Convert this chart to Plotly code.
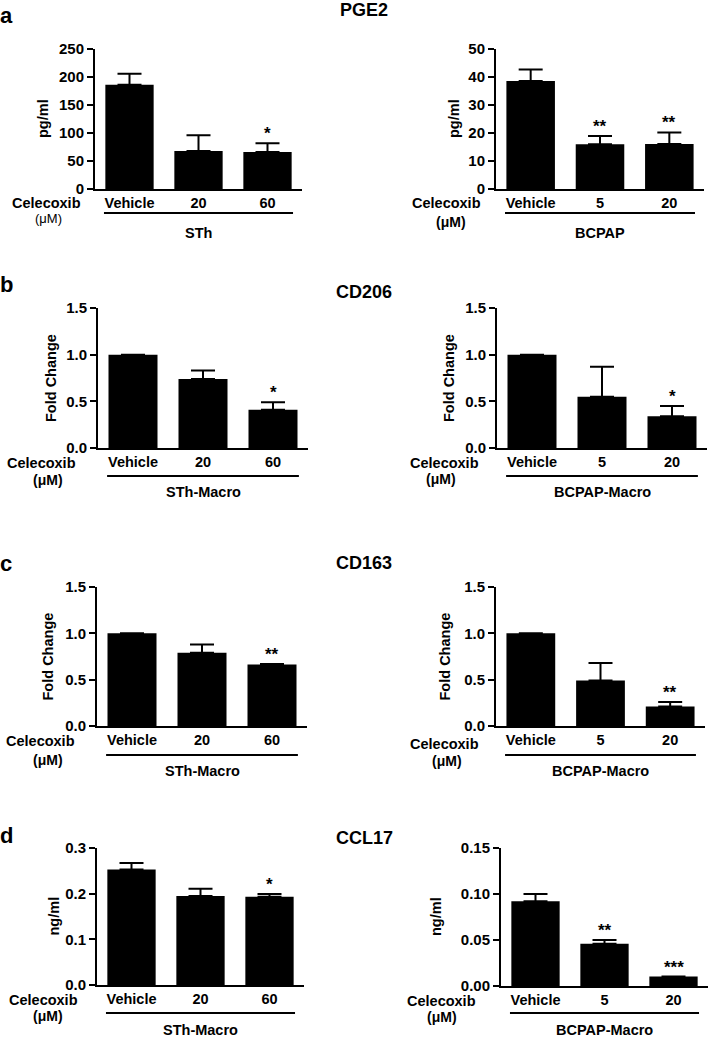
import plotly.graph_objects as go

# ---------------- data ----------------
cats_sth = ["Vehicle", "20", "60"]
cats_bcpap = ["Vehicle", "5", "20"]

pge2_sth_mean = [186, 68, 66]
pge2_sth_err = [20, 28, 15.5]
pge2_sth_stars = ["", "", "*"]
pge2_sth_ticks = [0, 50, 100, 150, 200, 250]

pge2_bcpap_mean = [38.6, 16.0, 16.1]
pge2_bcpap_err = [4.1, 2.9, 4.1]
pge2_bcpap_stars = ["", "**", "**"]
pge2_bcpap_ticks = [0, 10, 20, 30, 40, 50]

cd206_sth_mean = [1.0, 0.74, 0.41]
cd206_sth_err = [0, 0.09, 0.08]
cd206_sth_stars = ["", "", "*"]

cd206_bcpap_mean = [1.0, 0.55, 0.34]
cd206_bcpap_err = [0, 0.32, 0.11]
cd206_bcpap_stars = ["", "", "*"]

cd163_sth_mean = [1.0, 0.79, 0.665]
cd163_sth_err = [0, 0.09, 0.005]
cd163_sth_stars = ["", "", "**"]

cd163_bcpap_mean = [1.0, 0.49, 0.21]
cd163_bcpap_err = [0, 0.19, 0.05]
cd163_bcpap_stars = ["", "", "**"]

fold_ticks = [0.0, 0.5, 1.0, 1.5]

ccl17_sth_mean = [0.253, 0.195, 0.193]
ccl17_sth_err = [0.014, 0.016, 0.006]
ccl17_sth_stars = ["", "", "*"]
ccl17_sth_ticks = [0.0, 0.1, 0.2, 0.3]

ccl17_bcpap_mean = [0.092, 0.046, 0.0102]
ccl17_bcpap_err = [0.008, 0.004, 0]
ccl17_bcpap_stars = ["", "**", "***"]
ccl17_bcpap_ticks = [0.0, 0.05, 0.10, 0.15]

panel_letters = ["a", "b", "c", "d"]
panel_titles = ["PGE2", "CD206", "CD163", "CCL17"]

# ---------------- layout helpers ----------------
W, H = 708, 1038
FONT = "Liberation Sans, Arial, Helvetica, sans-serif"


def fx(x):
    return x / W


def fy(y):
    return 1 - y / H


panels = [
    dict(mean=pge2_sth_mean, err=pge2_sth_err, stars=pge2_sth_stars, cats=cats_sth,
         group="STh", ytitle="pg/ml", ticks=pge2_sth_ticks, fmt="d",
         xdom=(95, 302), ydom=(49, 189), yt_x=43, cel_x=46, cel_y=203,
         um_x=48, um_y=218, um_bold=False, line_y=213, group_y=233),
    dict(mean=pge2_bcpap_mean, err=pge2_bcpap_err, stars=pge2_bcpap_stars, cats=cats_bcpap,
         group="BCPAP", ytitle="pg/ml", ticks=pge2_bcpap_ticks, fmt="d",
         xdom=(496, 704), ydom=(49, 189), yt_x=454, cel_x=446, cel_y=203,
         um_x=451, um_y=222, um_bold=True, line_y=213, group_y=233),
    dict(mean=cd206_sth_mean, err=cd206_sth_err, stars=cd206_sth_stars, cats=cats_sth,
         group="STh-Macro", ytitle="Fold Change", ticks=fold_ticks, fmt=".1f",
         xdom=(98, 308), ydom=(308, 448), yt_x=51, cel_x=41, cel_y=463,
         um_x=48, um_y=480, um_bold=True, line_y=476, group_y=492),
    dict(mean=cd206_bcpap_mean, err=cd206_bcpap_err, stars=cd206_bcpap_stars, cats=cats_bcpap,
         group="BCPAP-Macro", ytitle="Fold Change", ticks=fold_ticks, fmt=".1f",
         xdom=(497, 707), ydom=(308, 448), yt_x=449, cel_x=444, cel_y=463,
         um_x=441, um_y=479, um_bold=True, line_y=476, group_y=492),
    dict(mean=cd163_sth_mean, err=cd163_sth_err, stars=cd163_sth_stars, cats=cats_sth,
         group="STh-Macro", ytitle="Fold Change", ticks=fold_ticks, fmt=".1f",
         xdom=(97, 307), ydom=(587, 726), yt_x=47, cel_x=40, cel_y=741,
         um_x=48, um_y=760, um_bold=True, line_y=755, group_y=771),
    dict(mean=cd163_bcpap_mean, err=cd163_bcpap_err, stars=cd163_bcpap_stars, cats=cats_bcpap,
         group="BCPAP-Macro", ytitle="Fold Change", ticks=fold_ticks, fmt=".1f",
         xdom=(496, 705), ydom=(587, 726), yt_x=444, cel_x=445, cel_y=744,
         um_x=447, um_y=761, um_bold=True, line_y=755, group_y=771),
    dict(mean=ccl17_sth_mean, err=ccl17_sth_err, stars=ccl17_sth_stars, cats=cats_sth,
         group="STh-Macro", ytitle="ng/ml", ticks=ccl17_sth_ticks, fmt=".1f",
         xdom=(97, 304), ydom=(848, 985), yt_x=53, cel_x=43, cel_y=1000,
         um_x=48, um_y=1016, um_bold=True, line_y=1013, group_y=1030),
    dict(mean=ccl17_bcpap_mean, err=ccl17_bcpap_err, stars=ccl17_bcpap_stars, cats=cats_bcpap,
         group="BCPAP-Macro", ytitle="ng/ml", ticks=ccl17_bcpap_ticks, fmt=".2f",
         xdom=(501, 708), ydom=(848, 986), yt_x=436, cel_x=441, cel_y=1001,
         um_x=442, um_y=1017, um_bold=True, line_y=1013, group_y=1030),
]

letter_pos = [(6, 15), (6, 285), (6, 563), (6, 835)]
title_pos = [(364, 10), (364, 292), (364, 563), (364, 838)]

fig = go.Figure()
layout = dict(
    width=W, height=H, autosize=False,
    margin=dict(l=0, r=0, t=0, b=0),
    paper_bgcolor="white", plot_bgcolor="white",
    showlegend=False, template="none",
    font=dict(family=FONT, color="black"),
)
annotations = []
shapes = []

bold = dict(family=FONT, color="black", weight="bold")

for i, p in enumerate(panels):
    n = i + 1
    xa = "x" if n == 1 else f"x{n}"
    ya = "y" if n == 1 else f"y{n}"
    xkey = "xaxis" if n == 1 else f"xaxis{n}"
    ykey = "yaxis" if n == 1 else f"yaxis{n}"
    xs = list(range(len(p["cats"])))
    fig.add_trace(go.Bar(
        x=xs, y=p["mean"], width=0.7, xaxis=xa, yaxis=ya,
        marker=dict(color="black", line=dict(width=0)),
        error_y=dict(type="data", symmetric=False, array=p["err"],
                     arrayminus=[0] * len(xs), color="black", thickness=2, width=12),
        hoverinfo="y",
    ))
    ymax = p["ticks"][-1]
    layout[xkey] = dict(
        domain=[fx(p["xdom"][0]), fx(p["xdom"][1])], anchor=ya,
        range=[-0.5, 2.5], showgrid=False, zeroline=False,
        showline=True, linecolor="black", linewidth=2,
        ticks="", tickmode="array", tickvals=xs, ticktext=p["cats"],
        tickfont=dict(size=14.5, **bold), automargin=False, fixedrange=True,
    )
    layout[ykey] = dict(
        domain=[fy(p["ydom"][1]), fy(p["ydom"][0])], anchor=xa,
        range=[0, ymax], showgrid=False, zeroline=False,
        showline=True, linecolor="black", linewidth=2,
        ticks="outside", ticklen=6, tickwidth=2, tickcolor="black",
        tickmode="array", tickvals=p["ticks"], tickformat=p["fmt"],
        tickfont=dict(size=15, **bold), automargin=False, fixedrange=True,
    )
    # significance stars
    for j, s in enumerate(p["stars"]):
        if s:
            annotations.append(dict(
                x=xs[j], y=p["mean"][j] + p["err"][j], xref=xa, yref=ya,
                text=s, showarrow=False, yanchor="bottom", xanchor="center",
                yshift=-2, font=dict(size=17, **bold),
            ))
    # y title
    annotations.append(dict(
        x=fx(p["yt_x"]), y=fy((p["ydom"][0] + p["ydom"][1]) / 2),
        xref="paper", yref="paper", text=p["ytitle"], textangle=-90,
        showarrow=False, xanchor="center", yanchor="middle",
        font=dict(size=14.5, **bold),
    ))
    # Celecoxib / (µM)
    annotations.append(dict(
        x=fx(p["cel_x"]), y=fy(p["cel_y"]), xref="paper", yref="paper",
        text="Celecoxib", showarrow=False, xanchor="center", yanchor="middle",
        font=dict(size=14.5, **bold),
    ))
    annotations.append(dict(
        x=fx(p["um_x"]), y=fy(p["um_y"]), xref="paper", yref="paper",
        text="(\u03bcM)", showarrow=False, xanchor="center", yanchor="middle",
        font=dict(size=14 if p["um_bold"] else 13, family=FONT, color="black",
                  weight="bold" if p["um_bold"] else "normal"),
    ))
    # group underline and label
    shapes.append(dict(
        type="line", xref=xa, yref="paper", x0=-0.37, x1=2.37,
        y0=fy(p["line_y"]), y1=fy(p["line_y"]),
        line=dict(color="black", width=2),
    ))
    annotations.append(dict(
        x=1, y=fy(p["group_y"]), xref=xa, yref="paper", text=p["group"],
        showarrow=False, xanchor="center", yanchor="middle",
        font=dict(size=14.5, **bold),
    ))

for k in range(4):
    lx, ly = letter_pos[k]
    annotations.append(dict(
        x=fx(lx), y=fy(ly), xref="paper", yref="paper", text=panel_letters[k],
        showarrow=False, xanchor="center", yanchor="middle",
        font=dict(size=22, **bold),
    ))
    tx, ty = title_pos[k]
    annotations.append(dict(
        x=fx(tx), y=fy(ty), xref="paper", yref="paper", text=panel_titles[k],
        showarrow=False, xanchor="center", yanchor="middle",
        font=dict(size=18, **bold),
    ))

layout["annotations"] = annotations
layout["shapes"] = shapes
fig.update_layout(**layout)
fig.write_html(
    "out.html",
    config={"displayModeBar": False},
    post_script="document.body.style.margin='0px';document.body.style.padding='0px';",
)
